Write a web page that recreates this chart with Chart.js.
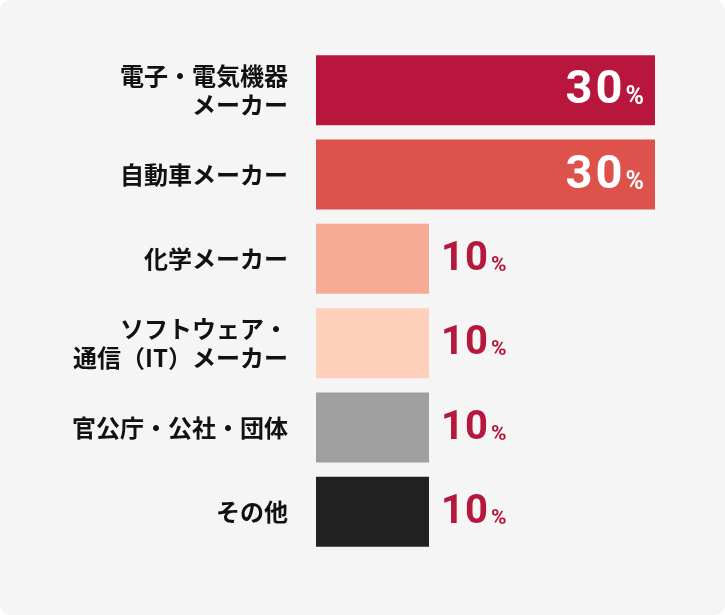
<!DOCTYPE html>
<html lang="ja">
<head>
<meta charset="utf-8">
<title>業種別割合</title>
<script src="https://cdn.jsdelivr.net/npm/chart.js@4"></script>
<style>
  html, body { margin: 0; padding: 0; background: #ffffff; }
  .panel {
    width: 725px;
    height: 615px;
    background: #f5f5f5;
    border-radius: 10px;
    overflow: hidden;
  }
</style>
</head>
<body>
<div class="panel">
  <canvas id="industryChart" width="725" height="615"></canvas>
</div>
<script>
const categories = [
  ["電子・電気機器", "メーカー"],
  "自動車メーカー",
  "化学メーカー",
  ["ソフトウェア・", "通信（IT）メーカー"],
  "官公庁・公社・団体",
  "その他"
];
const shares = [30, 30, 10, 10, 10, 10];
const barColors = ["#b8163c", "#de524c", "#f7ab94", "#fed0bb", "#a0a0a0", "#222222"];

const AXIS_LEFT = 316;

// draws "30%" inside long bars, "10%" after short ones
const valueLabels = {
  id: "valueLabels",
  afterDatasetsDraw(chart) {
    const ctx = chart.ctx;
    const meta = chart.getDatasetMeta(0);
    ctx.save();
    ctx.textBaseline = "alphabetic";
    ctx.textAlign = "left";
    meta.data.forEach((bar, i) => {
      const v = String(shares[i]);
      const inside = shares[i] >= 20;
      const numFont = inside ? "bold 47px Roboto" : "bold 40px Roboto";
      const pctFont = inside ? "bold 25px Roboto" : "bold 21px Roboto";
      const spacing = inside ? "3px" : "1px";
      const gap = inside ? 0 : 2;
      const base = bar.y + (inside ? 13 : 11);
      ctx.fillStyle = inside ? "#ffffff" : "#b5173d";
      ctx.letterSpacing = spacing;
      ctx.font = numFont;
      const numW = ctx.measureText(v).width;
      ctx.letterSpacing = "0px";
      ctx.font = pctFont;
      const pctW = ctx.measureText("%").width;
      const x = inside ? bar.x - 11 - pctW - gap - numW : bar.x + 12;
      ctx.letterSpacing = spacing;
      ctx.font = numFont;
      ctx.fillText(v, x, base);
      ctx.letterSpacing = "0px";
      ctx.font = pctFont;
      ctx.fillText("%", x + numW + gap, base + 1);
    });
    ctx.restore();
  }
};

new Chart(document.getElementById("industryChart"), {
  type: "bar",
  data: {
    labels: categories,
    datasets: [{
      data: shares,
      backgroundColor: barColors,
      borderWidth: 0,
      barPercentage: 0.83,
      categoryPercentage: 1
    }]
  },
  options: {
    indexAxis: "y",
    responsive: false,
    animation: false,
    layout: { padding: { top: 48, bottom: 61, right: 70, left: 0 } },
    plugins: {
      legend: { display: false },
      tooltip: { enabled: false }
    },
    scales: {
      x: {
        display: false,
        min: 0,
        max: 30
      },
      y: {
        grid: { display: false, drawTicks: false },
        border: { display: false },
        afterFit(scale) { scale.width = AXIS_LEFT; },
        ticks: {
          padding: 28,
          color: "#111111",
          font: { family: "'Noto Sans CJK JP'", size: 24, weight: "bold", lineHeight: 1.2 }
        }
      }
    }
  },
  plugins: [valueLabels]
});
</script>
</body>
</html>
